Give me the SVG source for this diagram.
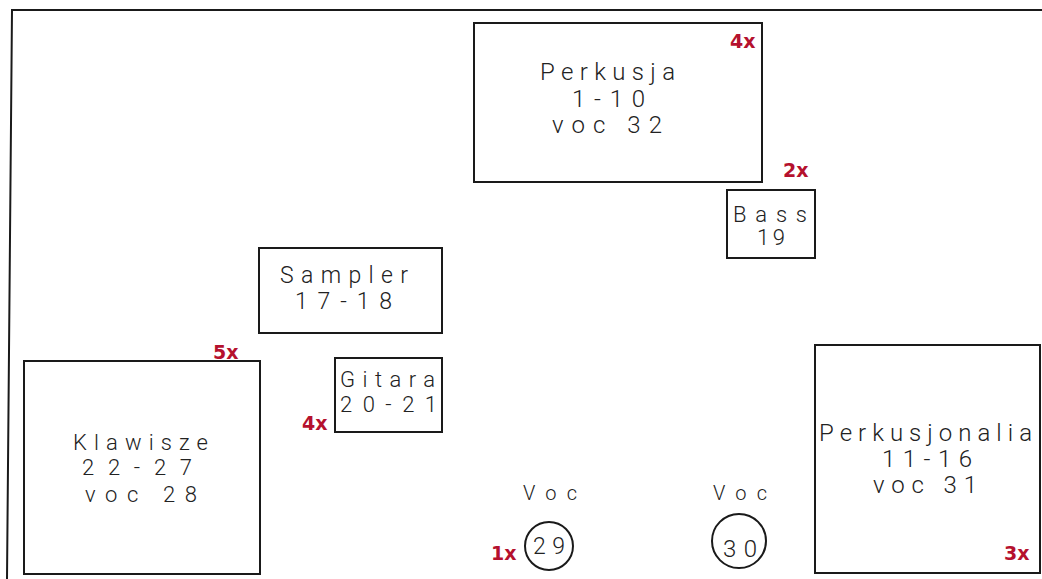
<svg xmlns="http://www.w3.org/2000/svg" width="1042" height="579" viewBox="0 0 1042 579">
<style>
.box{fill:#fff;stroke:#1a1a1a;stroke-width:2}
.frame{fill:none;stroke:#1a1a1a;stroke-width:2}
.t{font-family:Roboto,"Liberation Sans",sans-serif;font-weight:300;fill:#222}
.q{font-family:"DejaVu Sans","Liberation Sans",sans-serif;font-weight:bold;font-size:19px;fill:#b5112e}
</style>
<rect width="1042" height="579" fill="#fff"/>
<g id="frame">
<polyline class="frame" points="1042,10 12,10 7,579"/>
</g>
<g id="connectors"></g>
<g id="perkusja">
<rect class="box" x="474" y="23" width="288" height="159"/>
<text class="t" x="540" y="80" font-size="24" textLength="135" lengthAdjust="spacing">Perkusja</text>
<text class="t" x="572" y="107" font-size="24" textLength="73" lengthAdjust="spacing">1-10</text>
<text class="t" x="552" y="133" font-size="24" textLength="110" lengthAdjust="spacing">voc 32</text>
<text class="q" x="730" y="48">4x</text>
</g>
<g id="bass">
<rect class="box" x="727" y="190" width="88" height="68"/>
<text class="t" x="733" y="222" font-size="22" textLength="74" lengthAdjust="spacing">Bass</text>
<text class="t" x="757" y="245" font-size="22" textLength="28" lengthAdjust="spacing">19</text>
<text class="q" x="783" y="177">2x</text>
</g>
<g id="sampler">
<rect class="box" x="259" y="248" width="183" height="85"/>
<text class="t" x="280" y="283" font-size="23" textLength="128" lengthAdjust="spacing">Sampler</text>
<text class="t" x="295" y="309" font-size="23" textLength="97" lengthAdjust="spacing">17-18</text>
</g>
<g id="klawisze">
<rect class="box" x="24" y="361" width="236" height="213"/>
<text class="t" x="73" y="450" font-size="22" textLength="135" lengthAdjust="spacing">Klawisze</text>
<text class="t" x="82" y="475" font-size="22" textLength="110" lengthAdjust="spacing">22-27</text>
<text class="t" x="85" y="502" font-size="22" textLength="112" lengthAdjust="spacing">voc 28</text>
<text class="q" x="213" y="359">5x</text>
</g>
<g id="gitara">
<rect class="box" x="335" y="358" width="107" height="74"/>
<text class="t" x="340" y="387" font-size="22" textLength="95" lengthAdjust="spacing">Gitara</text>
<text class="t" x="340" y="412" font-size="22" textLength="97" lengthAdjust="spacing">20-21</text>
<text class="q" x="302" y="430">4x</text>
</g>
<g id="voc29">
<text class="t" x="523" y="500" font-size="20" textLength="54" lengthAdjust="spacing">Voc</text>
<circle class="box" cx="549" cy="546" r="24"/>
<text class="t" x="533" y="554" font-size="23" textLength="32" lengthAdjust="spacing">29</text>
<text class="q" x="491" y="560">1x</text>
</g>
<g id="voc30">
<text class="t" x="713" y="500" font-size="20" textLength="54" lengthAdjust="spacing">Voc</text>
<circle class="box" cx="739" cy="541" r="27"/>
<text class="t" x="723" y="557" font-size="24" textLength="34" lengthAdjust="spacing">30</text>
</g>
<g id="perkusjonalia">
<rect class="box" x="815" y="345" width="225" height="228"/>
<text class="t" x="819" y="441" font-size="24" textLength="213" lengthAdjust="spacing">Perkusjonalia</text>
<text class="t" x="882" y="467" font-size="24" textLength="90" lengthAdjust="spacing">11-16</text>
<text class="t" x="873" y="493" font-size="24" textLength="104" lengthAdjust="spacing">voc 31</text>
<text class="q" x="1004" y="560">3x</text>
</g>
</svg>
